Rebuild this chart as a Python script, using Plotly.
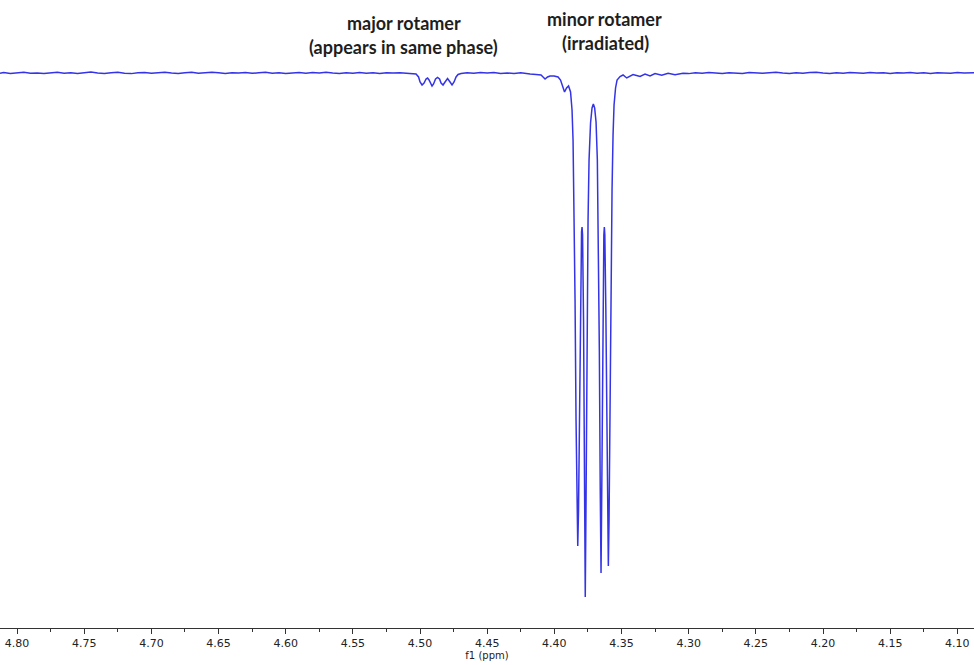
import plotly.graph_objects as go

# 1H NMR trace (f1, ppm) after selective irradiation of the minor rotamer.
# Intensities are in arbitrary units, baseline = 0, strongest line = -100.

# flat baseline, downfield side
base_left_ppm = [4.8127, 4.810, 4.805, 4.800, 4.795, 4.790, 4.785, 4.780, 4.775, 4.770,
                 4.765, 4.760, 4.755, 4.750, 4.745, 4.740, 4.735, 4.730, 4.725, 4.720,
                 4.715, 4.710, 4.705, 4.700, 4.695, 4.690, 4.685, 4.680, 4.675, 4.670,
                 4.665, 4.660, 4.655, 4.650, 4.645, 4.640, 4.635, 4.630, 4.625, 4.620,
                 4.615, 4.610, 4.605, 4.600, 4.595, 4.590, 4.585, 4.580, 4.575, 4.570,
                 4.565, 4.560, 4.555, 4.550, 4.545, 4.540, 4.535, 4.530, 4.525, 4.520,
                 4.515, 4.510, 4.506]
base_left_int = [-0.05, 0.08, -0.10, 0.05, 0.12, -0.06, 0.02, -0.12, 0.06, 0.15,
                 -0.04, 0.03, -0.10, 0.10, 0.18, 0.02, -0.08, 0.06, 0.12, -0.04,
                 -0.12, 0.04, 0.10, -0.06, 0.08, 0.16, 0.00, -0.10, 0.05, 0.12,
                 -0.05, 0.02, 0.14, 0.04, -0.08, 0.06, -0.02, 0.10, -0.06, 0.04,
                 0.12, -0.04, 0.06, -0.10, 0.02, 0.10, -0.05, 0.08, -0.02, 0.12,
                 0.00, -0.08, 0.06, -0.04, 0.08, -0.06, 0.04, -0.10, 0.05, -0.02,
                 0.06, -0.04, -0.08]

# major rotamer multiplet (same phase as the irradiated signal)
major_ppm = [4.50297, 4.50111, 4.49999, 4.49850, 4.49701, 4.49552, 4.49441, 4.49329,
             4.49217, 4.49106, 4.48994, 4.48845, 4.48696, 4.48547, 4.48436, 4.48287,
             4.48138, 4.47952, 4.47766, 4.47617, 4.47468, 4.47319, 4.47170, 4.46947]
major_int = [-0.19, -0.76, -1.72, -2.29, -1.91, -1.15, -0.95, -1.34,
             -2.10, -2.48, -2.10, -1.15, -0.86, -1.15, -1.91, -2.29,
             -1.72, -1.05, -1.72, -2.29, -1.72, -0.76, -0.29, -0.10]

# baseline between the two groups
base_mid_ppm = [4.465, 4.460, 4.455, 4.450, 4.445, 4.440, 4.435, 4.430, 4.425, 4.4215]
base_mid_int = [0.04, -0.06, 0.08, -0.02, 0.10, -0.08, 0.02, -0.10, 0.04, -0.12]

# minor rotamer (irradiated) doublet of doublets with its shoulders
minor_ppm = [4.41810, 4.41364, 4.40991, 4.40842, 4.40693, 4.40507, 4.40321, 4.40023,
             4.39726, 4.39540, 4.39391, 4.39242, 4.39093, 4.38944, 4.38795, 4.38684,
             4.38609, 4.38535, 4.38460, 4.38386, 4.38311, 4.38259, 4.38200, 4.38125,
             4.38051, 4.37976, 4.37939, 4.37902, 4.37827, 4.37753, 4.37701, 4.37641,
             4.37567, 4.37492, 4.37418, 4.37306, 4.37195, 4.37098, 4.37001, 4.36897,
             4.36800, 4.36726, 4.36651, 4.36584, 4.36525, 4.36465, 4.36391, 4.36316,
             4.36279, 4.36242, 4.36168, 4.36093, 4.36034, 4.35982, 4.35929, 4.35855,
             4.35780, 4.35706, 4.35631, 4.35557, 4.35445, 4.35333, 4.35110, 4.34887,
             4.34611, 4.34365, 4.34142, 4.33882, 4.33621, 4.33249, 4.32877, 4.32505,
             4.32006, 4.31535, 4.31016, 4.30420]
minor_int = [-0.19, -0.29, -0.38, -0.76, -1.15, -0.76, -0.57, -0.57,
             -0.76, -1.34, -2.67, -3.63, -2.86, -2.48, -3.63, -7.06,
             -12.79, -24.24, -43.32, -66.22, -85.31, -90.27, -83.40, -62.40,
             -41.41, -30.34, -29.39, -30.92, -47.14, -77.67, -100.0, -81.49,
             -49.05, -28.05, -16.60, -9.54, -6.68, -5.92, -6.68, -9.35,
             -16.60, -29.96, -52.86, -79.58, -95.42, -77.67, -47.14, -30.92,
             -29.39, -30.92, -45.23, -70.04, -87.21, -94.08, -85.31, -62.40,
             -39.50, -22.33, -11.83, -6.11, -2.86, -1.34, -0.67, -0.38,
             -0.95, -0.57, -0.29, -0.48, -0.67, -0.19, -0.57, -0.10,
             -0.44, -0.06, -0.32, -0.06]

# flat baseline, upfield side
base_right_ppm = [4.300, 4.295, 4.290, 4.285, 4.280, 4.275, 4.270, 4.265, 4.260, 4.255,
                  4.250, 4.245, 4.240, 4.235, 4.230, 4.225, 4.220, 4.215, 4.210, 4.205,
                  4.200, 4.195, 4.190, 4.185, 4.180, 4.175, 4.170, 4.165, 4.160, 4.155,
                  4.150, 4.145, 4.140, 4.135, 4.130, 4.125, 4.120, 4.115, 4.110, 4.105,
                  4.100, 4.095, 4.0875]
base_right_int = [-0.12, 0.04, -0.06, 0.08, -0.02, -0.10, 0.06, 0.00, -0.08, 0.10,
                  0.02, -0.06, 0.04, 0.12, -0.02, -0.10, 0.06, -0.04, 0.08, 0.14,
                  0.00, -0.08, 0.04, -0.04, 0.10, 0.02, -0.06, 0.08, -0.02, 0.04,
                  -0.10, 0.06, 0.00, 0.10, -0.04, 0.04, -0.08, 0.06, 0.02, -0.06,
                  0.08, -0.02, 0.04]

ppm = base_left_ppm + major_ppm + base_mid_ppm + minor_ppm + base_right_ppm
intensity = base_left_int + major_int + base_mid_int + minor_int + base_right_int

# assignment labels: text, centre (ppm), height (paper fraction)
labels = [
    ("major rotamer", 4.5119, 0.9634),
    ("(appears in same phase)", 4.5125, 0.9252),
    ("minor rotamer", 4.3630, 0.9697),
    ("(irradiated)", 4.3622, 0.9315),
]

fig = go.Figure()
fig.add_trace(go.Scatter(
    x=ppm, y=intensity, mode="lines",
    line=dict(color="#3434e6", width=1.5),
    hoverinfo="skip", showlegend=False,
))

for text, x, y in labels:
    fig.add_annotation(
        text=f"<b>{text}</b>", x=x, xref="x", y=y, yref="paper",
        showarrow=False, xanchor="center", yanchor="middle",
        font=dict(family="Lato", size=18, color="#1e1e1e"),
    )

fig.update_layout(
    width=974, height=665,
    margin=dict(l=0, r=0, t=0, b=37),
    paper_bgcolor="white", plot_bgcolor="white",
    showlegend=False,
    xaxis=dict(
        range=[4.8127, 4.0876],
        tick0=4.10, dtick=0.05, tickformat=".2f",
        ticks="outside", ticklen=5, tickwidth=1, tickcolor="#333333",
        minor=dict(dtick=0.025, ticks="outside", ticklen=3, tickcolor="#333333"),
        showline=True, linecolor="#333333", linewidth=1,
        showgrid=False, zeroline=False,
        tickfont=dict(family="DejaVu Sans", size=11, color="#222222"),
        title=dict(text="f1 (ppm)", standoff=0,
                   font=dict(family="DejaVu Sans", size=10, color="#222222")),
        automargin=False,
    ),
    yaxis=dict(
        range=[-105.92, 13.93],
        visible=False, showgrid=False, zeroline=False,
    ),
)

fig.write_html("out.html")
